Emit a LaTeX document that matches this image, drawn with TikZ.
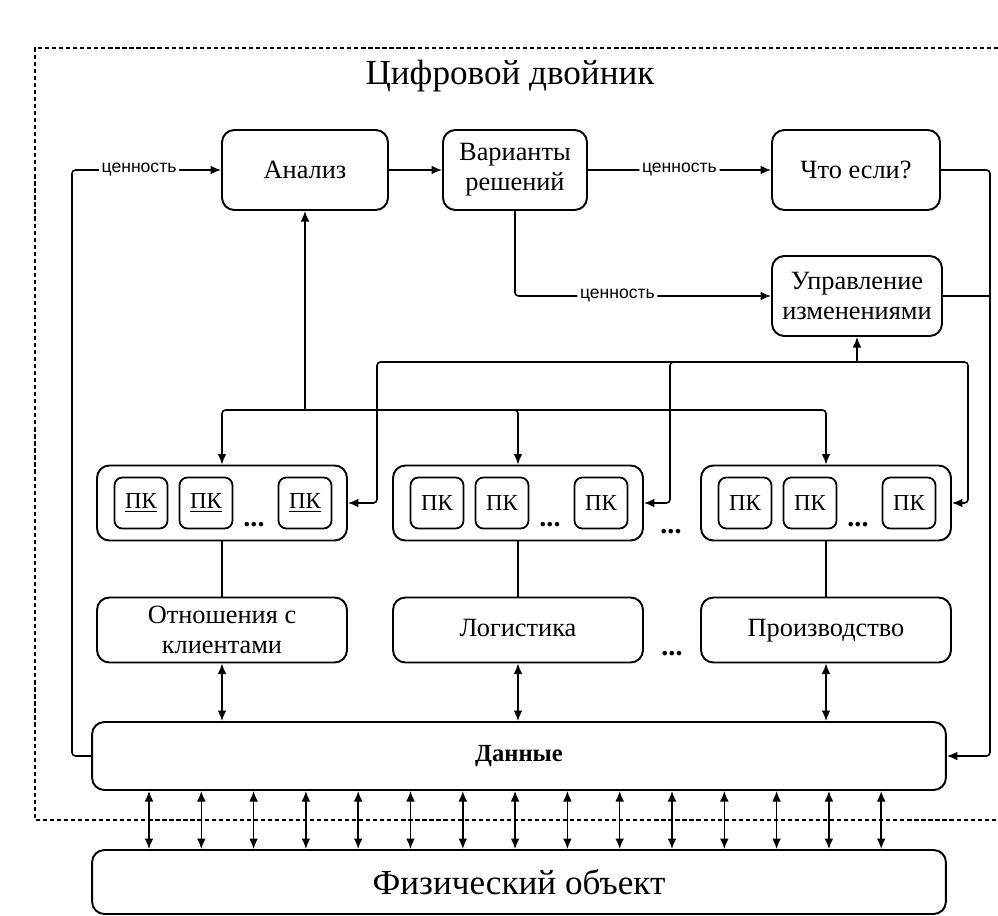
\documentclass[tikz,border=0pt]{standalone}
\usepackage{fontspec}
\setmainfont{Liberation Serif}
\newfontfamily\lblfont{Liberation Sans}
\usepackage{tikz}
\usetikzlibrary{arrows.meta, calc}

\begin{document}
\begin{tikzpicture}[
  x=0.02cm, y=-0.02cm,
  >={Latex[length=6pt, width=5pt]},
  blk/.style={rectangle, rounded corners=7pt, draw=black, line width=1.1pt, align=center, font=\fontsize{15}{17}\selectfont},
  oneline/.style={text height=0.9em, text depth=0.2em},
  pk/.style={rectangle, rounded corners=4.5pt, draw=black, line width=1pt, minimum width=1.06cm, minimum height=1.02cm, font=\fontsize{13}{15}\selectfont},
  dots/.style={anchor=base, inner sep=0pt, font=\fontsize{16}{18}\selectfont\bfseries},
  lbl/.style={fill=white, inner sep=1.5pt, font=\lblfont\fontsize{10}{12}\selectfont},
  con/.style={line width=0.9pt, rounded corners=2pt}
]
  \useasboundingbox (0,0) rectangle (998,916);

  % frame of the twin
  \draw[line width=0.9pt, dash pattern=on 2.4pt off 1.6pt] (998,48) -- (35,48) -- (35,820) -- (998,820);
  \node (title) at (510,76) {\fontsize{20}{24}\selectfont Цифровой двойник};

  \node[blk, minimum width=3.32cm, minimum height=1.6cm] (anal) at (305,170) {Анализ};
  \node[blk, minimum width=2.88cm, minimum height=1.6cm] (var) at (515,170) {Варианты\\решений};
  \node[blk, minimum width=3.36cm, minimum height=1.6cm] (what) at (856,170) {Что если?};
  \node[blk, minimum width=3.4cm, minimum height=1.6cm] (upr) at (857,296) {Управление\\изменениями};

  % groups of PK
  \foreach \g/\x/\t in {1/222/{\underline{ПК}}, 2/518/ПК, 3/826/ПК} {
    \node[blk, minimum width=5cm, minimum height=1.5cm] (grp\g) at (\x,503) {};
    \node[pk] (pk\g a) at (\x-81,503) {\t};
    \node[pk] (pk\g b) at (\x-16,503) {\t};
    \node[pk] (pk\g c) at (\x+83,503) {\t};
    \node[dots] (dt\g) at (\x+32,526) {...};
  }
  \node[dots] (dtg) at (671,533) {...};

  \node[blk, minimum width=5cm, minimum height=1.3cm] (fn1) at (222,630) {Отношения с\\клиентами};
  \node[blk, oneline, minimum width=5cm, minimum height=1.3cm] (fn2) at (518,630) {Логистика};
  \node[blk, oneline, minimum width=5cm, minimum height=1.3cm] (fn3) at (826,630) {Производство};
  \node[dots] (dtf) at (672,655) {...};

  \node[blk, minimum width=17.08cm, minimum height=1.36cm, font=\fontsize{14}{16}\selectfont\bfseries] (data) at (519,756) {Данные};
  \node[blk, minimum width=17.08cm, minimum height=1.28cm, font=\fontsize{20}{24}\selectfont] (phys) at (519,882) {Физический объект};

  % value flows
  \coordinate (lbus) at (72,170);
  \draw[con, ->] (data.west) -| (lbus) -- node[lbl, pos=0.45] {ценность} (anal.west);
  \draw[con, ->] (anal) -- (var);
  \draw[con, ->] (var) -- node[lbl] {ценность} (what);
  \draw[con, ->] (var.south) |- node[lbl, pos=0.7] {ценность} (upr.west);

  \coordinate (rbus) at (990,756);
  \draw[con, ->] (what.east) -| (rbus) -- (data.east);
  \draw[con] (upr.east) -- (upr.east -| rbus);

  % buses
  \coordinate (abus) at (305,410);
  \draw[con, ->] (abus) -- (anal.south);
  \foreach \g in {1,2,3}
    \draw[con, ->] (abus) -| (grp\g.north);

  \coordinate (ubus) at (857,362);
  \coordinate (d1) at (377,503);
  \coordinate (d2) at (670,503);
  \coordinate (d3) at (968,503);
  \draw[con, ->] (ubus) -- (upr.south);
  \foreach \g in {1,2,3}
    \draw[con, ->] (ubus) -| (d\g) -- (grp\g.east);

  \foreach \g in {1,2,3} {
    \draw[con] (grp\g.south) -- (fn\g.north);
    \draw[con, <->] (fn\g.south) -- (data.north -| fn\g.south);
  }

  \foreach \i [evaluate=\i as \xx using 149+52.3*\i] in {0,...,14}
    \draw[con, <->] (data.south -| \xx,0) -- (phys.north -| \xx,0);
\end{tikzpicture}
\end{document}
